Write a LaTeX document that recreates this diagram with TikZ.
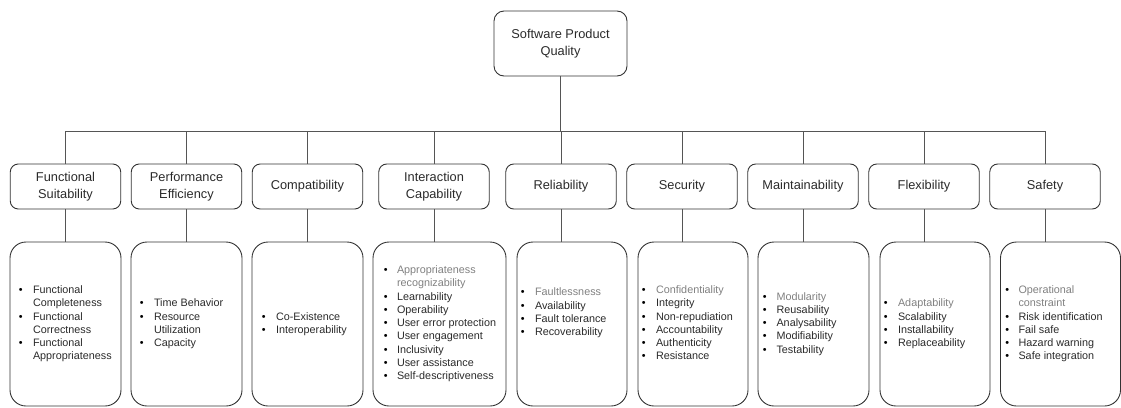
\documentclass[tikz,border=0pt]{standalone}
\usepackage{fontspec}
\setmainfont{Liberation Sans}
\definecolor{boxc}{HTML}{333333}
\definecolor{linec}{HTML}{555555}
\definecolor{txt}{HTML}{2A2A2A}
\definecolor{gry}{HTML}{808080}
\newcommand{\bl}{\textcolor{black}{\textbullet}}
\newcommand{\gt}[1]{\textcolor{gry}{#1}}
\tikzset{
  topbox/.style={draw=boxc, line width=0.9pt, rounded corners=10pt, minimum width=133pt, minimum height=65pt, align=center, font=\fontsize{12.8}{16.7}\selectfont, text=txt, inner sep=0pt},
  catbox/.style={draw=boxc, line width=0.9pt, rounded corners=8pt, minimum width=110.5pt, minimum height=45pt, align=center, font=\fontsize{12.8}{16.7}\selectfont, text=txt, inner sep=0pt},
  listbox/.style={draw=boxc, line width=0.9pt, rounded corners=16pt, minimum height=164pt, inner sep=0pt},
  listtext/.style={anchor=west, inner sep=0pt, font=\fontsize{10.8}{13.3}\selectfont, text=txt},
  conn/.style={draw=linec, line width=0.9pt},
}
\begin{document}
\begin{tikzpicture}[x=1pt,y=-1pt]
\useasboundingbox (0,0) rectangle (1121,407);
% root
\node[topbox] (top) at (560.5,43.5) {Software Product\\Quality};
% categories
\node[catbox] (fs) at (65.5,186.5) {Functional\\Suitability};
\node[catbox] (pe) at (186.5,186.5) {Performance\\Efficiency};
\node[catbox] (co) at (307.5,186.5) {Compatibility};
\node[catbox] (ic) at (434,186.5) {Interaction\\Capability};
\node[catbox] (re) at (561,186.5) {Reliability};
\node[catbox] (se) at (682,186.5) {Security};
\node[catbox] (ma) at (803,186.5) {Maintainability};
\node[catbox] (fl) at (924,186.5) {Flexibility};
\node[catbox] (sa) at (1045,186.5) {Safety};
% list boxes
\node[listbox, minimum width=111pt] (fsl) at (65.5,324) {};
\node[listbox, minimum width=111pt] (pel) at (186.5,324) {};
\node[listbox, minimum width=111pt] (col) at (307.5,324) {};
\node[listbox, minimum width=133pt] (icl) at (439.5,324) {};
\node[listbox, minimum width=110pt] (rel) at (572,324) {};
\node[listbox, minimum width=110pt] (sel) at (693,324) {};
\node[listbox, minimum width=111pt] (mal) at (813.5,324) {};
\node[listbox, minimum width=110pt] (fll) at (935,324) {};
\node[listbox, minimum width=120pt] (sal) at (1060.5,324) {};
% list texts
\node[listtext] (fst) at ([xshift=9pt]fsl.west) {\begin{tabular}{@{}l@{\hspace{10.5pt}}l@{}}
\bl & Functional\\ & Completeness\\ \bl & Functional\\ & Correctness\\ \bl & Functional\\ & Appropriateness\end{tabular}};
\node[listtext] (pet) at ([xshift=9pt]pel.west) {\begin{tabular}{@{}l@{\hspace{10.5pt}}l@{}}
\bl & Time Behavior\\ \bl & Resource\\ & Utilization\\ \bl & Capacity\end{tabular}};
\node[listtext] (cot) at ([xshift=10pt]col.west) {\begin{tabular}{@{}l@{\hspace{10.5pt}}l@{}}
\bl & Co-Existence\\ \bl & Interoperability\end{tabular}};
\node[listtext] (ict) at ([xshift=11pt]icl.west) {\begin{tabular}{@{}l@{\hspace{9.5pt}}l@{}}
\bl & \gt{Appropriateness}\\ & \gt{recognizability}\\ \bl & Learnability\\ \bl & Operability\\ \bl & User error protection\\ \bl & User engagement\\ \bl & Inclusivity\\ \bl & User assistance\\ \bl & Self-descriptiveness\end{tabular}};
\node[listtext] (ret) at ([xshift=4pt,yshift=11pt]rel.west) {\begin{tabular}{@{}l@{\hspace{10.5pt}}l@{}}
\bl & \gt{Faultlessness}\\ \bl & Availability\\ \bl & Fault tolerance\\ \bl & Recoverability\end{tabular}};
\node[listtext] (set) at ([xshift=4pt]sel.west) {\begin{tabular}{@{}l@{\hspace{10.5pt}}l@{}}
\bl & \gt{Confidentiality}\\ \bl & Integrity\\ \bl & Non-repudiation\\ \bl & Accountability\\ \bl & Authenticity\\ \bl & Resistance\end{tabular}};
\node[listtext] (mat) at ([xshift=5pt]mal.west) {\begin{tabular}{@{}l@{\hspace{10pt}}l@{}}
\bl & \gt{Modularity}\\ \bl & Reusability\\ \bl & Analysability\\ \bl & Modifiability\\ \bl & Testability\end{tabular}};
\node[listtext] (flt) at ([xshift=4pt]fll.west) {\begin{tabular}{@{}l@{\hspace{10.5pt}}l@{}}
\bl & \gt{Adaptability}\\ \bl & Scalability\\ \bl & Installability\\ \bl & Replaceability\end{tabular}};
\node[listtext] (sat) at ([xshift=5pt]sal.west) {\begin{tabular}{@{}l@{\hspace{9.5pt}}l@{}}
\bl & \gt{Operational}\\ & \gt{constraint}\\ \bl & Risk identification\\ \bl & Fail safe\\ \bl & Hazard warning\\ \bl & Safe integration\end{tabular}};
% connectors
\coordinate (bus) at (560.5,131);
\draw[conn] (top.south) -- (bus);
\foreach \n in {fs,pe,co,ic,re,se,ma,fl,sa}{
  \draw[conn] (\n.north) |- (bus);
}
\foreach \n in {fs,pe,co,ic,re,se,ma,fl,sa}{
  \draw[conn] (\n.south) -- (\n.south |- \n l.north);
}
\end{tikzpicture}
\end{document}
